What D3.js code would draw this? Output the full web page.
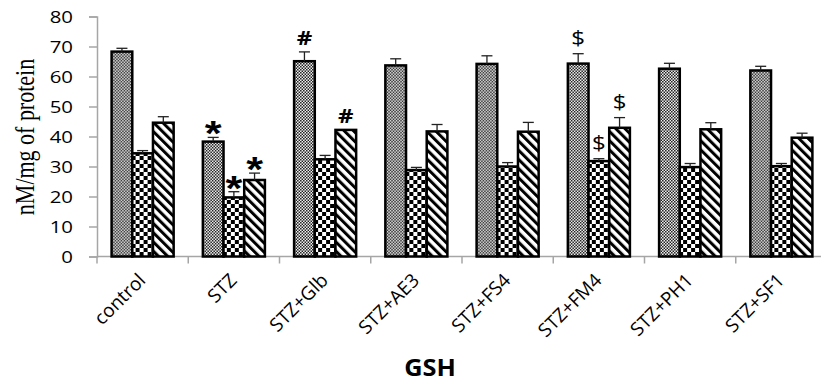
<!DOCTYPE html>
<html>
<head>
<meta charset="utf-8">
<script src="https://cdn.jsdelivr.net/npm/d3@7"></script>
<style>
  html, body { margin: 0; padding: 0; background: #fff; }
  svg { display: block; }
</style>
</head>
<body>
<svg id="chart" width="821" height="382"></svg>
<script>
// GSH levels per treatment group, three measurements each
const categories = ["control", "STZ", "STZ+Glb", "STZ+AE3", "STZ+FS4", "STZ+FM4", "STZ+PH1", "STZ+SF1"];
const series1 = [68.3, 38.3, 65.1, 63.7, 64.2, 64.3, 62.6, 62.0];
const errors1 = [1.1, 1.4, 3.1, 2.2, 2.7, 3.3, 1.8, 1.4];
const series2 = [34.4, 19.7, 32.4, 28.8, 30.0, 31.8, 29.8, 30.1];
const errors2 = [0.9, 1.9, 1.3, 0.9, 1.3, 0.8, 1.2, 0.9];
const series3 = [44.6, 25.5, 42.2, 41.7, 41.6, 42.9, 42.4, 39.6];
const errors3 = [2.0, 2.3, 0.0, 2.3, 3.1, 3.4, 2.2, 1.5];
const yTicks = [0, 10, 20, 30, 40, 50, 60, 70, 80];
// significance marks: [category, series index, symbol]
const marks = [
  ["STZ", 0, "*"], ["STZ", 1, "*"], ["STZ", 2, "*"],
  ["STZ+Glb", 0, "#"], ["STZ+Glb", 2, "#"],
  ["STZ+FM4", 0, "$"], ["STZ+FM4", 1, "$"], ["STZ+FM4", 2, "$"]
];

const seriesVals = [series1, series2, series3];
const seriesErr = [errors1, errors2, errors3];
const fills = ["url(#finecheck)", "url(#check)", "url(#stripe)"];

const svg = d3.select("#chart");
const plotLeft = 97, plotRight = 827, plotTop = 16.5, plotBottom = 256.5;
const SX = 1.2; // horizontal widening of text glyphs

// patterns
const defs = svg.append("defs");
const p1 = defs.append("pattern").attr("id", "finecheck").attr("patternUnits", "userSpaceOnUse")
  .attr("width", 3).attr("height", 3);
p1.append("rect").attr("width", 3).attr("height", 3).attr("fill", "#fff");
p1.append("rect").attr("width", 1.5).attr("height", 1.5).attr("fill", "#111");
p1.append("rect").attr("x", 1.5).attr("y", 1.5).attr("width", 1.5).attr("height", 1.5).attr("fill", "#111");

const p2 = defs.append("pattern").attr("id", "check").attr("patternUnits", "userSpaceOnUse")
  .attr("width", 8).attr("height", 8);
p2.append("rect").attr("width", 8).attr("height", 8).attr("fill", "#fff");
p2.append("rect").attr("width", 4).attr("height", 4).attr("fill", "#000");
p2.append("rect").attr("x", 4).attr("y", 4).attr("width", 4).attr("height", 4).attr("fill", "#000");

const p3 = defs.append("pattern").attr("id", "stripe").attr("patternUnits", "userSpaceOnUse")
  .attr("width", 6.5).attr("height", 6.5).attr("patternTransform", "rotate(-45)");
p3.append("rect").attr("width", 6.5).attr("height", 6.5).attr("fill", "#fff");
p3.append("rect").attr("width", 3).attr("height", 6.5).attr("fill", "#000");

// scales
const x0 = d3.scaleBand().domain(categories).range([plotLeft, plotRight])
  .paddingInner(0.32).paddingOuter(0.16);
const x1 = d3.scaleBand().domain([0, 1, 2]).range([0, x0.bandwidth()]);
const y = d3.scaleLinear().domain([0, 80]).range([plotBottom, plotTop]);

// y axis
const yAxis = svg.append("g").attr("transform", `translate(${plotLeft},0)`)
  .call(d3.axisLeft(y).tickValues(yTicks).tickSize(8).tickPadding(0).tickFormat(d3.format("d")));
yAxis.select(".domain").attr("stroke", "#a6a6a6").attr("stroke-width", 1.5);
yAxis.selectAll(".tick line").attr("stroke", "#a6a6a6").attr("stroke-width", 1.5);
yAxis.selectAll(".tick text").remove();
yAxis.selectAll(".tick").append("text")
  .attr("transform", `translate(-24,0) scale(${SX},1)`)
  .attr("text-anchor", "end").attr("dy", "0.36em")
  .attr("fill", "#000").attr("font-family", "Open Sans, sans-serif").attr("font-size", 17)
  .text(d => d);

// x axis with category boundary ticks
const xg = svg.append("g");
xg.append("line").attr("x1", plotLeft).attr("x2", 821).attr("y1", plotBottom).attr("y2", plotBottom)
  .attr("stroke", "#a6a6a6").attr("stroke-width", 1.5);
const step = x0.step();
const bounds = d3.range(categories.length + 1).map(i => x0(categories[0]) - x0.paddingOuter() * step + i * step);
xg.selectAll("line.bt").data(bounds).join("line").attr("class", "bt")
  .attr("x1", d => d).attr("x2", d => d).attr("y1", plotBottom).attr("y2", plotBottom + 7)
  .attr("stroke", "#a6a6a6").attr("stroke-width", 1.5);

// category labels, slanted
svg.append("g").selectAll("text").data(categories).join("text")
  .attr("transform", d => `translate(${x0(d) + x0.bandwidth() / 2 + 4},${plotBottom + 25}) rotate(-45)`)
  .attr("text-anchor", "end")
  .attr("font-family", "Open Sans, sans-serif").attr("font-size", 19).attr("fill", "#000")
  .text(d => d);

// bars
const rows = categories.map((c, i) => ({ c, i }));
const groups = svg.append("g").selectAll("g").data(rows).join("g")
  .attr("transform", d => `translate(${x0(d.c)},0)`);
groups.selectAll("rect").data(d => [0, 1, 2].map(s => ({ s, v: seriesVals[s][d.i] })))
  .join("rect")
  .attr("x", d => x1(d.s)).attr("width", x1.bandwidth())
  .attr("y", d => y(d.v)).attr("height", d => plotBottom - y(d.v))
  .attr("fill", d => fills[d.s]).attr("stroke", "#000").attr("stroke-width", 2.5);

// error bars (upper only)
const eb = groups.selectAll("g.err")
  .data(d => [0, 1, 2].map(s => ({ s, v: seriesVals[s][d.i], e: seriesErr[s][d.i] })).filter(d => d.e > 0))
  .join("g").attr("class", "err");
eb.append("line")
  .attr("x1", d => x1(d.s) + x1.bandwidth() / 2).attr("x2", d => x1(d.s) + x1.bandwidth() / 2)
  .attr("y1", d => y(d.v)).attr("y2", d => y(d.v + d.e))
  .attr("stroke", "#222").attr("stroke-width", 1.3);
eb.append("line")
  .attr("x1", d => x1(d.s) + x1.bandwidth() / 2 - 5.5).attr("x2", d => x1(d.s) + x1.bandwidth() / 2 + 5.5)
  .attr("y1", d => y(d.v + d.e)).attr("y2", d => y(d.v + d.e))
  .attr("stroke", "#222").attr("stroke-width", 1.3);

// significance marks above the error bars
const markStyle = {
  "*": { family: "Liberation Sans, sans-serif", weight: "bold", size: 36, off: -8 },
  "#": { family: "Open Sans, sans-serif", weight: "bold", size: 20, off: 7 },
  "$": { family: "Open Sans, sans-serif", weight: "normal", size: 20, off: 9 }
};
svg.append("g").selectAll("text").data(marks).join("text")
  .attr("transform", d => {
    const ci = categories.indexOf(d[0]);
    const cx = x0(d[0]) + x1(d[1]) + x1.bandwidth() / 2;
    const ty = y(seriesVals[d[1]][ci] + seriesErr[d[1]][ci]);
    return `translate(${cx},${ty - markStyle[d[2]].off}) scale(${SX},1)`;
  })
  .attr("text-anchor", "middle")
  .attr("font-family", d => markStyle[d[2]].family)
  .attr("font-weight", d => markStyle[d[2]].weight)
  .attr("font-size", d => markStyle[d[2]].size)
  .attr("fill", "#000")
  .text(d => d[2]);

// y axis title
svg.append("text")
  .attr("transform", `translate(34,137) scale(${SX},1) rotate(-90)`)
  .attr("text-anchor", "middle")
  .attr("font-family", "Liberation Serif, serif").attr("font-size", 22).attr("fill", "#000")
  .text("nM/mg of protein");

// chart title
svg.append("text")
  .attr("transform", `translate(430,376) scale(1.1,1)`)
  .attr("text-anchor", "middle")
  .attr("font-family", "Open Sans, sans-serif").attr("font-weight", "bold")
  .attr("font-size", 23).attr("fill", "#000")
  .text("GSH");
</script>
</body>
</html>
